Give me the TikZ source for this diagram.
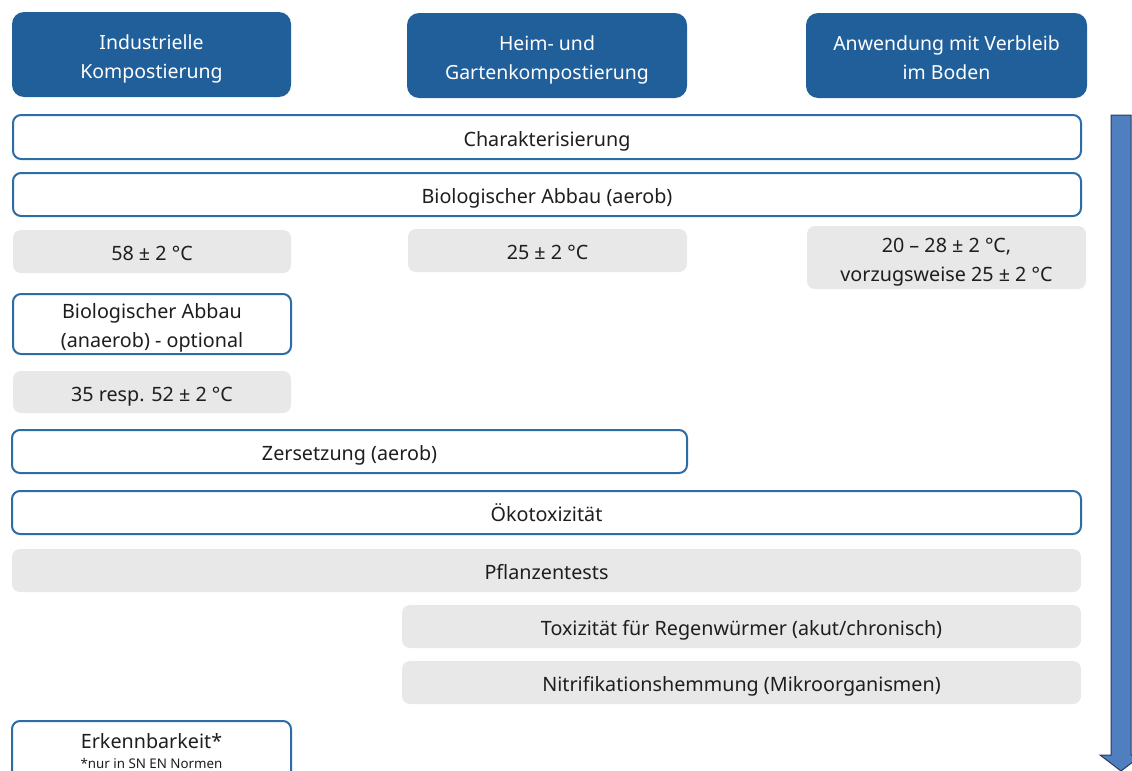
\documentclass[tikz,border=0pt]{standalone}
\usepackage{fontspec}
\setmainfont{Noto Sans}
\definecolor{hdrc}{RGB}{33,95,154}
\definecolor{bordc}{RGB}{46,108,166}
\definecolor{grayc}{RGB}{232,232,232}
\definecolor{txtc}{RGB}{30,30,30}
\definecolor{arrf}{RGB}{79,127,190}
\definecolor{arrd}{RGB}{40,60,90}
\newcommand\mylines[1]{\raisebox{-2.5pt}[\height][\depth]{\begin{tabular}{@{}c@{}}#1\end{tabular}}}
\newcommand\mybx[7]{\node[#2, minimum width={(#5-#3)*0.75pt}, minimum height={(#6-#4)*0.75pt}] (#1) at ({(#3+#5)/2},{(#4+#6)/2}) {\mylines{#7}};}
\tikzset{
  hdrbox/.style={fill=hdrc, rounded corners=9pt, text=white, align=center, inner sep=0pt,
    font=\fontsize{14.6}{21.75}\selectfont},
  wbox/.style={draw=bordc, line width=1.5pt, fill=white, rounded corners=6pt, text=txtc,
    align=center, inner sep=0pt, font=\fontsize{14.8}{21.75}\selectfont},
  gbox/.style={fill=grayc, rounded corners=6pt, text=txtc, align=center, inner sep=0pt,
    font=\fontsize{14.8}{21.75}\selectfont},
  bigarrow/.style={fill=arrf, draw=arrd, line width=0.75pt}
}
\begin{document}
\begin{tikzpicture}[x=0.75pt,y=-0.75pt]
\useasboundingbox (0,0) rectangle (1132,771);
\clip (0,0) rectangle (1132,771);
% headers
\mybx{h1}{hdrbox}{12}{12}{291}{97}{Industrielle\\Kompostierung}
\mybx{h2}{hdrbox}{407}{13}{687}{98}{Heim- und\\Gartenkompostierung}
\mybx{h3}{hdrbox}{806}{13}{1087}{98}{Anwendung mit Verbleib\\im Boden}
% rows
\mybx{char}{wbox}{13}{115}{1081}{159}{Charakterisierung}
\mybx{bioa}{wbox}{13}{173}{1081}{216}{Biologischer Abbau (aerob)}
\mybx{t1}{gbox}{13}{230}{291}{273}{58 ± 2 °C}
\mybx{t2}{gbox}{408}{229}{687}{272}{25 ± 2 °C}
\mybx{t3}{gbox}{807}{226}{1086}{289}{20 – 28 ± 2 °C,\\vorzugsweise 25 ± 2 °C}
\mybx{bioan}{wbox}{13}{294}{291}{354}{Biologischer Abbau\\(anaerob) - optional}
\mybx{t4}{gbox}{13}{371}{291}{413}{35 resp. 52 ± 2 °C}
\mybx{zers}{wbox}{12}{430}{687}{473}{Zersetzung (aerob)}
\mybx{oeko}{wbox}{12}{491}{1081}{534}{Ökotoxizität}
\mybx{pfl}{gbox}{12}{549}{1081}{592}{Pflanzentests}
\mybx{regw}{gbox}{402}{605}{1081}{648}{Toxizität für Regenwürmer (akut/chronisch)}
\mybx{nitr}{gbox}{402}{661}{1081}{704}{Nitrifikationshemmung (Mikroorganismen)}
\node[wbox, minimum width={279*0.75pt}, minimum height={79*0.75pt}] (erk) at (151.5,760.5)
  {\raisebox{6pt}[\height][\depth]{\begin{tabular}{@{}c@{}}Erkennbarkeit*\\[-6.5pt]{\fontsize{10}{12}\selectfont *nur in SN EN Normen}\end{tabular}}};
% direction arrow
\draw[bigarrow] (1111,115) -- (1131,115) -- (1131,755) -- (1142,755) -- (1121,771) -- (1100,755) -- (1111,755) -- cycle;
\end{tikzpicture}
\end{document}
